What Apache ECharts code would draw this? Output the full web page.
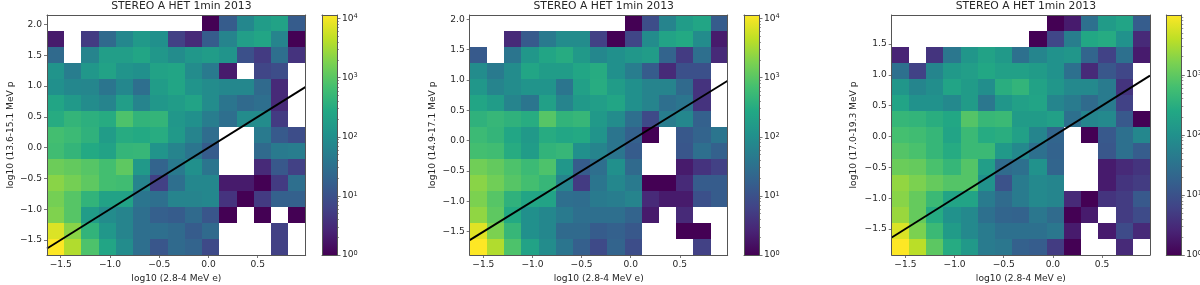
<!DOCTYPE html>
<html><head><meta charset="utf-8">
<style>html,body{margin:0;padding:0;background:#fff}#main{width:1200px;height:285px;filter:blur(0.45px)}</style>
<script src="https://cdn.jsdelivr.net/npm/echarts@6/dist/echarts.min.js"></script>
</head><body><div id="main"></div>
<script>
const _ = null;
const titles = ['STEREO A HET 1min 2013','STEREO A HET 1min 2013','STEREO A HET 1min 2013'];
const xName = 'log10 (2.8-4 MeV e)';
const yNames = ['log10 (13.6-15.1 MeV p','log10 (14.9-17.1 MeV p','log10 (17.0-19.3 MeV p'];
const xTicks = [-1.5,-1.0,-0.5,0.0,0.5];
const yTicks1 = [-1.5,-1.0,-0.5,0.0,0.5,1.0,1.5,2.0];
const yTicks2 = [-1.5,-1.0,-0.5,0.0,0.5,1.0,1.5,2.0];
const yTicks3 = [-1.5,-1.0,-0.5,0.0,0.5,1.0,1.5];
const xRange = [-1.639,0.987];
const yRange1 = [-1.744,2.154];
const yRange2 = [-1.884,2.070];
const yRange3 = [-1.922,1.970];
const lineEnds = [-1.639,0.987];
const colorMax = [11500,11500,9900];
const cbMajor = [1,10,100,1000,10000];
const cbMinor = [2,3,4,5,6,7,8,9,20,30,40,50,60,70,80,90,200,300,400,500,600,700,800,900,2000,3000,4000,5000,6000,7000,8000,9000];
const viridis = ['#440154','#482475','#414487','#355f8d','#2a788e','#21918c','#22a884','#44bf70','#7ad151','#bddf26','#fde725'];

// counts per bin; rows run from the top of the plot to the bottom
const counts1 = [
[_,_,_,_,_,_,_,_,_,1,15,75,165,210,15],
[2,_,5,25,75,150,105,6,3,15,65,180,240,65,1],
[25,_,65,180,180,240,135,90,135,165,120,10,5,30,4],
[120,50,135,210,120,105,210,240,90,45,2,_,7,9,_],
[105,75,70,38,75,30,165,240,120,90,75,75,25,3,_],
[240,150,90,65,180,65,135,165,220,90,38,25,30,3,_],
[310,450,370,310,820,430,450,135,105,50,30,90,90,5,_],
[680,560,400,165,310,280,320,150,65,28,_,_,45,14,9],
[620,450,280,210,460,490,120,65,38,15,_,_,25,45,50],
[1400,1200,950,680,1100,150,20,45,105,38,_,_,3,13,6],
[2200,1600,1100,680,620,65,6,30,75,75,2,2,1,5,30],
[1600,950,430,210,210,38,30,65,65,75,4,1,5,18,18],
[1900,950,165,90,65,30,17,15,25,12,1,_,1,_,1],
[7000,2200,430,135,65,30,30,25,15,25,_,_,_,6,_],
[11500,3800,820,240,90,30,12,25,20,8,_,_,_,6,_]];
const counts2 = [
[_,_,_,_,_,_,_,_,_,1,9,65,165,240,15],
[_,_,3,14,45,90,90,6,1,7,90,220,280,90,2],
[14,_,38,135,240,310,150,75,105,135,165,20,5,30,3],
[90,45,90,240,165,165,250,310,105,50,15,3,10,10,_],
[135,65,90,120,120,38,195,320,165,105,65,65,25,4,_],
[240,165,65,38,195,65,150,180,240,105,65,30,38,4,_],
[400,490,400,320,950,430,490,150,90,30,8,50,75,18,_],
[560,450,250,150,310,250,280,120,38,18,1,_,13,20,38],
[680,620,310,165,430,490,105,65,38,15,_,_,12,30,18],
[1500,1200,820,560,820,135,15,30,105,25,_,_,2,4,6],
[2200,1500,950,680,490,65,5,38,75,45,1,1,3,15,15],
[1800,950,400,240,220,30,28,45,50,65,3,2,2,10,15],
[2400,1100,280,105,75,45,30,30,30,20,2,_,3,_,_],
[7500,1800,490,105,75,25,25,15,18,13,_,_,1,1,_],
[11500,3800,820,210,90,38,17,8,20,9,_,_,_,6,_]];
const counts3 = [
[_,_,_,_,_,_,_,_,_,1,2,30,150,210,15],
[_,_,_,_,_,_,_,_,1,7,50,240,280,105,3],
[2.5,_,4,38,120,195,135,30,65,105,120,20,6,30,2],
[30,6,65,135,165,240,180,180,150,105,30,3,12,7,_],
[120,65,90,210,150,90,310,400,195,120,75,75,45,4,_],
[210,105,105,75,150,38,120,180,210,65,45,25,45,6,_],
[430,400,310,240,820,450,490,150,150,180,30,65,75,13,1],
[620,560,430,210,490,280,310,180,65,20,_,1,13,30,70],
[820,680,430,280,490,490,135,75,30,18,_,_,12,30,15],
[1200,1100,680,430,820,165,25,30,105,20,_,_,2,3,4],
[2200,1600,1100,820,820,105,10,45,75,65,_,_,2,4,5],
[1900,1100,490,210,210,45,25,45,75,65,3,1,4,5,13],
[2400,1100,280,105,75,30,20,18,38,25,1,2,_,5,8],
[6000,1600,490,150,75,45,30,30,30,38,2,_,2,8,3],
[9900,3800,950,280,135,45,38,17,15,5,1,_,_,3,_]];

const panels = [
 {counts:counts1,yRange:yRange1,yTicks:yTicks1,left:47,w:258.7,cbLeft:322,nameGap:32},
 {counts:counts2,yRange:yRange2,yTicks:yTicks2,left:469.7,w:258,cbLeft:744,nameGap:33},
 {counts:counts3,yRange:yRange3,yTicks:yTicks3,left:891.7,w:258.3,cbLeft:1166.3,nameGap:34}
];
const TOP=15,H=240,CBW=15,textC='#262626',lineC='#555',FS=9.1,FONT='DejaVu Sans';
const fmt = v => (v<0?'\u2212':'')+Math.abs(v).toFixed(1);
const option = {animation:false,backgroundColor:'#fff',textStyle:{fontFamily:FONT},
 title:[],grid:[],xAxis:[],yAxis:[],series:[],visualMap:[]};

function frameAxes(g){
 return {gridIndex:g,show:true,z:5,axisLine:{show:true,onZero:false,lineStyle:{color:lineC,width:1}},axisTick:{show:false},axisLabel:{show:false},splitLine:{show:false}};
}
panels.forEach((p,i)=>{
 const g=i*2, cb=i*2+1;
 option.title.push({text:titles[i],left:p.left+p.w/2,top:-4,textAlign:'center',textStyle:{fontFamily:FONT,fontSize:10.8,fontWeight:'normal',color:textC}});
 option.grid.push({left:p.left,top:TOP,width:p.w,height:H,show:false,containLabel:false,outerBoundsMode:'none',z:1});
 option.grid.push({left:p.cbLeft,top:TOP,width:CBW,height:H,show:false,outerBoundsMode:'none'});
 const xAx=option.xAxis.length;
 option.xAxis.push({type:'value',gridIndex:g,min:xRange[0],max:xRange[1],position:'bottom',z:5,
   name:xName,nameLocation:'middle',nameGap:15.5,nameTextStyle:{fontSize:FS,color:textC,fontFamily:FONT},
   axisLine:{show:true,onZero:false,lineStyle:{color:lineC}},splitLine:{show:false},
   axisTick:{show:true,length:3,lineStyle:{color:lineC,width:.8},customValues:xTicks},
   axisLabel:{show:true,fontSize:FS,color:textC,margin:5.5,fontFamily:FONT,customValues:xTicks,formatter:fmt,hideOverlap:false}});
 option.xAxis.push(Object.assign(frameAxes(g),{type:'value',min:xRange[0],max:xRange[1],position:'top'}));
 option.xAxis.push(Object.assign(frameAxes(cb),{type:'value',min:0,max:1,position:'bottom'}));
 option.xAxis.push(Object.assign(frameAxes(cb),{type:'value',min:0,max:1,position:'top'}));
 const yAx=option.yAxis.length;
 option.yAxis.push({type:'value',gridIndex:g,min:p.yRange[0],max:p.yRange[1],position:'left',z:5,
   name:yNames[i],nameLocation:'middle',nameGap:p.nameGap,nameRotate:90,nameTextStyle:{fontSize:FS,color:textC,fontFamily:FONT},
   axisLine:{show:true,onZero:false,lineStyle:{color:lineC}},splitLine:{show:false},
   axisTick:{show:true,length:3,lineStyle:{color:lineC,width:.8},customValues:p.yTicks},
   axisLabel:{show:true,fontSize:FS,color:textC,margin:5,fontFamily:FONT,customValues:p.yTicks,formatter:fmt,hideOverlap:false}});
 option.yAxis.push(Object.assign(frameAxes(g),{type:'value',min:p.yRange[0],max:p.yRange[1],position:'right'}));
 const cbAx=option.yAxis.length;
 option.yAxis.push({type:'log',logBase:10,gridIndex:cb,min:1,max:colorMax[i],position:'right',z:5,
   axisLine:{show:true,onZero:false,lineStyle:{color:lineC}},splitLine:{show:false},
   axisTick:{show:true,length:3.5,lineStyle:{color:lineC,width:.8},customValues:cbMajor},
   axisLabel:{show:true,margin:5,fontFamily:FONT,customValues:cbMajor,hideOverlap:false,
     formatter:v=>'{b|10}{s|'+Math.round(Math.log10(v))+'}',
     rich:{b:{fontSize:FS,color:textC,fontFamily:FONT},s:{fontSize:6.6,color:textC,fontFamily:FONT,verticalAlign:'top',padding:[0,0,4,0]}}}});
 option.yAxis.push({type:'log',logBase:10,gridIndex:cb,min:1,max:colorMax[i],position:'left',z:5,
   axisLine:{show:true,onZero:false,lineStyle:{color:lineC}},splitLine:{show:false},axisTick:{show:false},axisLabel:{show:false}});
 option.yAxis.push({type:'log',logBase:10,gridIndex:cb,min:1,max:colorMax[i],position:'right',z:5,
   axisLine:{show:false,onZero:false},splitLine:{show:false},axisLabel:{show:false},
   axisTick:{show:true,length:2,lineStyle:{color:lineC,width:.6},customValues:cbMinor}});

 const nx=p.counts[0].length, ny=p.counts.length;
 const dx=(xRange[1]-xRange[0])/nx, dy=(p.yRange[1]-p.yRange[0])/ny;
 const cells=[];
 p.counts.forEach((row,r)=>row.forEach((v,c)=>{
   if(v!==null) cells.push([xRange[0]+c*dx,p.yRange[1]-r*dy,xRange[0]+(c+1)*dx,p.yRange[1]-(r+1)*dy,v,Math.log10(v)]);
 }));
 const heatIndex=option.series.length;
 option.series.push({type:'custom',xAxisIndex:xAx,yAxisIndex:yAx,coordinateSystem:'cartesian2d',
   dimensions:['x0','y0','x1','y1','count','logCount'],encode:{x:[0,2],y:[1,3]},data:cells,silent:true,z:2,clip:true,
   renderItem:(params,api)=>{
     const a=api.coord([api.value(0),api.value(1)]), b=api.coord([api.value(2),api.value(3)]);
     const x0=Math.round(a[0]),x1=Math.round(b[0]),y0=Math.round(a[1]),y1=Math.round(b[1]);
     return {type:'rect',shape:{x:x0,y:y0,width:x1-x0,height:y1-y0},style:{fill:api.visual('color')}};
   }});
 option.visualMap.push({show:false,seriesIndex:heatIndex,dimension:5,min:0,max:Math.log10(colorMax[i]),inRange:{color:viridis}});
 option.series.push({type:'line',xAxisIndex:xAx,yAxisIndex:yAx,data:[[lineEnds[0],lineEnds[0]],[lineEnds[1],lineEnds[1]]],
   showSymbol:false,symbol:'none',silent:true,z:3,clip:true,lineStyle:{color:'#000',width:1.9}});
 const grad=new echarts.graphic.LinearGradient(0,1,0,0,viridis.map((c,k)=>({offset:k/(viridis.length-1),color:c})));
 option.series.push({type:'custom',xAxisIndex:xAx+2,yAxisIndex:cbAx,coordinateSystem:'cartesian2d',
   data:[[0,1,1,colorMax[i]]],encode:{x:[0,2],y:[1,3]},silent:true,z:2,
   renderItem:(params,api)=>{
     const a=api.coord([api.value(0),api.value(3)]), b=api.coord([api.value(2),api.value(1)]);
     return {type:'rect',shape:{x:a[0],y:a[1],width:b[0]-a[0],height:b[1]-a[1]},style:{fill:grad}};
   }});
 option.series.push({type:'line',xAxisIndex:xAx+2,yAxisIndex:cbAx+2,data:[],silent:true});
});
const chart=echarts.init(document.getElementById('main'),null,{renderer:'canvas',width:1200,height:285});
chart.setOption(option);
</script></body></html>
